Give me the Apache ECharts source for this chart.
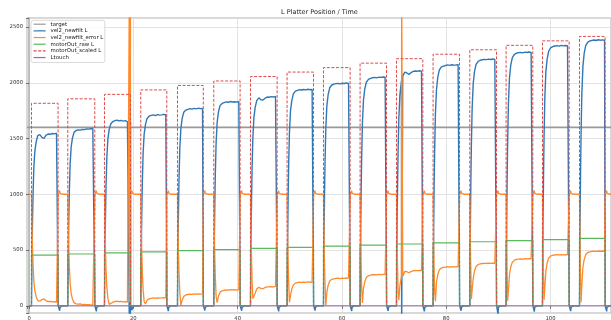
<!DOCTYPE html>
<html>
<head>
<meta charset="utf-8">
<script src="https://cdn.jsdelivr.net/npm/echarts/dist/echarts.min.js"></script>
<style>
  html, body { margin: 0; padding: 0; background: #fff; }
  #chart { width: 611px; height: 320px; }
</style>
</head>
<body>
<div id="chart"></div>
<script>
// cycle boundaries (time units)
const cycleStart = [0.46, 7.42, 14.46, 21.42, 28.46, 35.42, 42.46, 49.48, 56.46, 63.48, 70.46, 77.48, 84.52, 91.48, 98.46, 105.56];
const cycleEnd = [5.56, 12.60, 19.45, 26.41, 33.41, 40.47, 47.57, 54.55, 61.57, 68.55, 75.51, 82.55, 89.64, 96.60, 103.57, 110.47];

const scaledTop = [1816, 1856, 1896, 1936, 1976, 2016, 2056, 2096, 2136, 2176, 2216, 2256, 2296, 2336, 2376, 2416];
const rawLevel = [454, 464, 474, 484, 494, 504, 514, 524, 534, 544, 554, 564, 574, 584, 594, 604];
const targetLevel = 1600;
const timeEnd = 112;

// sample offsets from cycle start; last value of each cycle sits at cycleEnd
const riseOffsets = [0, 0.1, 0.2, 0.3, 0.45, 0.65, 0.9, 1.2, 1.6, 2.0, 2.4, 2.8, 3.2, 3.6, 4.0, 4.4, 4.8];

const velCycles = [
  [0, 460, 770, 1000, 1240, 1390, 1470, 1525, 1535, 1510, 1502, 1530, 1540, 1538, 1545, 1542, 1548, 1550],
  [0, 475, 790, 1030, 1270, 1425, 1505, 1555, 1572, 1578, 1575, 1582, 1580, 1586, 1584, 1588, 1590, 1592],
  [0, 500, 830, 1080, 1330, 1495, 1580, 1630, 1652, 1660, 1665, 1658, 1662, 1656, 1660, 1652, 1655, 1650],
  [0, 515, 855, 1110, 1370, 1540, 1625, 1680, 1700, 1708, 1712, 1706, 1714, 1710, 1712, 1716, 1713, 1716],
  [0, 530, 885, 1150, 1415, 1590, 1680, 1735, 1755, 1762, 1768, 1764, 1770, 1766, 1772, 1768, 1770, 1772],
  [0, 550, 915, 1190, 1465, 1645, 1740, 1795, 1815, 1822, 1828, 1825, 1832, 1828, 1830, 1826, 1832, 1830],
  [0, 560, 935, 1220, 1500, 1685, 1780, 1840, 1865, 1848, 1845, 1862, 1872, 1870, 1876, 1872, 1878, 1875],
  [0, 580, 970, 1260, 1550, 1745, 1840, 1900, 1925, 1932, 1938, 1935, 1940, 1936, 1942, 1938, 1940, 1944],
  [0, 600, 1000, 1300, 1595, 1795, 1895, 1955, 1980, 1988, 1992, 1995, 1990, 1996, 1994, 1998, 1995, 1998],
  [0, 615, 1025, 1330, 1640, 1845, 1945, 2005, 2030, 2040, 2045, 2048, 2044, 2050, 2048, 2052, 2049, 2050],
  [0, 630, 1050, 1365, 1680, 1890, 1995, 2060, 2095, 2088, 2074, 2092, 2102, 2106, 2104, 2108, 2104, 2106],
  [0, 650, 1080, 1400, 1725, 1940, 2050, 2115, 2142, 2150, 2155, 2160, 2156, 2162, 2158, 2160, 2163, 2160],
  [0, 665, 1105, 1435, 1770, 1990, 2100, 2165, 2192, 2202, 2206, 2210, 2208, 2212, 2209, 2213, 2210, 2212],
  [0, 680, 1135, 1475, 1820, 2045, 2160, 2225, 2255, 2265, 2270, 2272, 2268, 2275, 2272, 2276, 2273, 2275],
  [0, 700, 1165, 1515, 1865, 2100, 2215, 2285, 2315, 2325, 2330, 2333, 2329, 2335, 2331, 2334, 2332, 2336],
  [0, 715, 1190, 1550, 1905, 2145, 2265, 2335, 2365, 2375, 2380, 2384, 2379, 2386, 2382, 2385, 2381, 2384]
];

const errCycles = [
  [1000, 712, 519, 375, 225, 131, 81, 47, 41, 56, 61, 44, 38, 39, 34, 36, 32, 31],
  [1000, 703, 506, 356, 206, 109, 59, 28, 17, 14, 16, 11, 12, 9, 10, 8, 6, 5],
  [1000, 687, 481, 325, 169, 66, 12, 19, 32, 37, 41, 36, 39, 35, 37, 32, 34, 31],
  [1000, 678, 466, 306, 144, 37, 16, 50, 62, 67, 70, 66, 71, 69, 70, 72, 71, 72],
  [1000, 669, 447, 281, 116, 6, 50, 84, 97, 101, 105, 102, 106, 104, 107, 105, 106, 107],
  [1000, 656, 428, 256, 84, 28, 87, 122, 134, 139, 142, 141, 145, 142, 144, 141, 145, 144],
  [1000, 650, 416, 237, 62, 53, 112, 150, 166, 155, 153, 164, 170, 169, 172, 170, 174, 172],
  [1000, 637, 394, 212, 31, 91, 150, 187, 203, 207, 211, 209, 212, 210, 214, 211, 212, 215],
  [1000, 625, 375, 187, 3, 122, 184, 222, 237, 242, 245, 247, 244, 247, 246, 249, 247, 249],
  [1000, 616, 359, 169, 25, 153, 216, 253, 269, 275, 278, 280, 277, 281, 280, 282, 281, 281],
  [1000, 606, 344, 147, 50, 181, 247, 287, 309, 305, 296, 307, 314, 316, 315, 317, 315, 316],
  [1000, 594, 325, 125, 40, 212, 281, 322, 339, 344, 347, 350, 347, 351, 349, 350, 352, 350],
  [1000, 584, 309, 60, 60, 244, 312, 353, 370, 376, 379, 381, 380, 382, 381, 383, 381, 382],
  [1000, 575, 291, 45, 137, 278, 350, 391, 409, 416, 419, 420, 417, 422, 420, 422, 421, 422],
  [1000, 562, 272, 53, 166, 312, 384, 428, 447, 453, 456, 458, 456, 459, 457, 459, 457, 460],
  [1000, 553, 256, 31, 191, 341, 416, 459, 478, 484, 487, 490, 487, 491, 489, 491, 488, 490]
];

// after each cycle end
const gapOffsets = [0.02, 0.3, 0.36, 0.7, 0.8];
const velDip = [-45, -50, -40, -48, -42, -45, -50, -44, -48, -46, -50, -45, -80, -53, -48, -50];
const errGap = [1000, 1032, 1010, 1006, 1000];

// glitches
const velSpikes = [[19.22, 1652], [19.25, -300], [19.43, -300], [19.45, 1650], [71.42, 2020], [71.45, -300], [71.63, -300], [71.66, 2050]];
const errSpikes = [[19.22, 34], [19.25, 3000], [19.43, 3000], [19.45, 34], [71.42, 275], [71.45, 3000], [71.63, 3000], [71.66, 262]];

function trace(cycles, gapVals, lead, spikes) {
  const pts = [[0, lead]];
  cycleStart.forEach((s, i) => {
    riseOffsets.forEach((o, j) => pts.push([s + o, cycles[i][j]]));
    pts.push([cycleEnd[i], cycles[i][riseOffsets.length]]);
    gapVals(i).forEach((v, j) => pts.push([cycleEnd[i] + gapOffsets[j], v]));
  });
  pts.push([timeEnd, lead]);
  return pts.concat(spikes).sort((a, b) => a[0] - b[0]);
}

function boxes(levels) {
  const pts = [[0, 0]];
  cycleStart.forEach((s, i) => {
    pts.push([s, 0], [s, levels[i]], [cycleEnd[i], levels[i]], [cycleEnd[i], 0]);
  });
  pts.push([timeEnd, 0]);
  return pts;
}

const velData = trace(velCycles, i => [0, velDip[i], -15, -10, 0], 0, velSpikes);
const errData = trace(errCycles, () => errGap, 1000, errSpikes);

const font = "DejaVu Sans";
const chart = echarts.init(document.getElementById("chart"));

const line = (name, data, color, width, extra) => Object.assign({
  name, type: "line", data, symbol: "none", showSymbol: false,
  animation: false, clip: true,
  lineStyle: { color, width },
  itemStyle: { color }
}, extra || {});

chart.setOption({
  animation: false,
  backgroundColor: "#fff",
  title: {
    text: "L Platter Position / Time",
    left: 281, top: 8.5, padding: 0,
    textStyle: { fontFamily: font, fontSize: 6.5, fontWeight: "normal", color: "#222" }
  },
  grid: {
    left: 27, right: 0, top: 18, bottom: 7,
    show: true, borderColor: "#b0b0b0", borderWidth: 1,
    outerBoundsMode: "none"
  },
  legend: {
    orient: "vertical", left: 31, top: 20.3,
    itemWidth: 12, itemHeight: 8, itemGap: 0.27,
    padding: [0.7, 1.5, 1.7, 2],
    backgroundColor: "rgba(255,255,255,0.85)",
    borderColor: "#d0d0d0", borderWidth: 0.8, borderRadius: 2,
    itemStyle: { opacity: 0, borderWidth: 0 },
    lineStyle: { width: 1.2 },
    textStyle: { fontFamily: font, fontSize: 5.4, color: "#222" },
    data: ["target", "vel2_newfilt L", "vel2_newfilt_error L", "motorOut_raw L", "motorOut_scaled L", "Ltouch"]
  },
  xAxis: {
    type: "value", min: -0.4, max: 111.6, splitNumber: 5,
    axisLine: { show: false },
    axisTick: { show: true, length: 3, lineStyle: { color: "#555", width: 0.8 } },
    axisLabel: {
      fontFamily: font, fontSize: 5.3, color: "#333", margin: 3,
      formatter: v => (Math.abs(v % 20) < 1e-6 ? String(v) : "")
    },
    splitLine: { show: true, lineStyle: { color: "#dcdcdc", width: 0.8 } }
  },
  yAxis: {
    type: "value", min: -65, max: 2581, splitNumber: 5,
    axisLine: { show: true, lineStyle: { color: "#b8b8b8", width: 1.8 } },
    axisTick: { show: true, length: 3, lineStyle: { color: "#555", width: 0.8 } },
    axisLabel: {
      fontFamily: font, fontSize: 5.3, color: "#333", margin: 4,
      formatter: v => (Math.abs(v % 500) < 1e-6 ? String(v) : "")
    },
    splitLine: { show: true, lineStyle: { color: "#dcdcdc", width: 0.8 } }
  },
  series: [
    line("target", [[-0.4, targetLevel], [timeEnd, targetLevel]], "#9a9a9a", 1.8),
    line("vel2_newfilt L", velData, "#2f78b7", 1.4),
    line("vel2_newfilt_error L", errData, "#ff8a2a", 1.3),
    line("motorOut_raw L", boxes(rawLevel), "#5cb85c", 1.2),
    line("motorOut_scaled L", boxes(scaledTop), "#dd4b4b", 1, {
      lineStyle: { color: "#dd4b4b", width: 1, type: [3, 1.6] }
    }),
    line("Ltouch", [[0, 0], [timeEnd, 0]], "#9467bd", 1.2)
  ]
});
</script>
</body>
</html>
